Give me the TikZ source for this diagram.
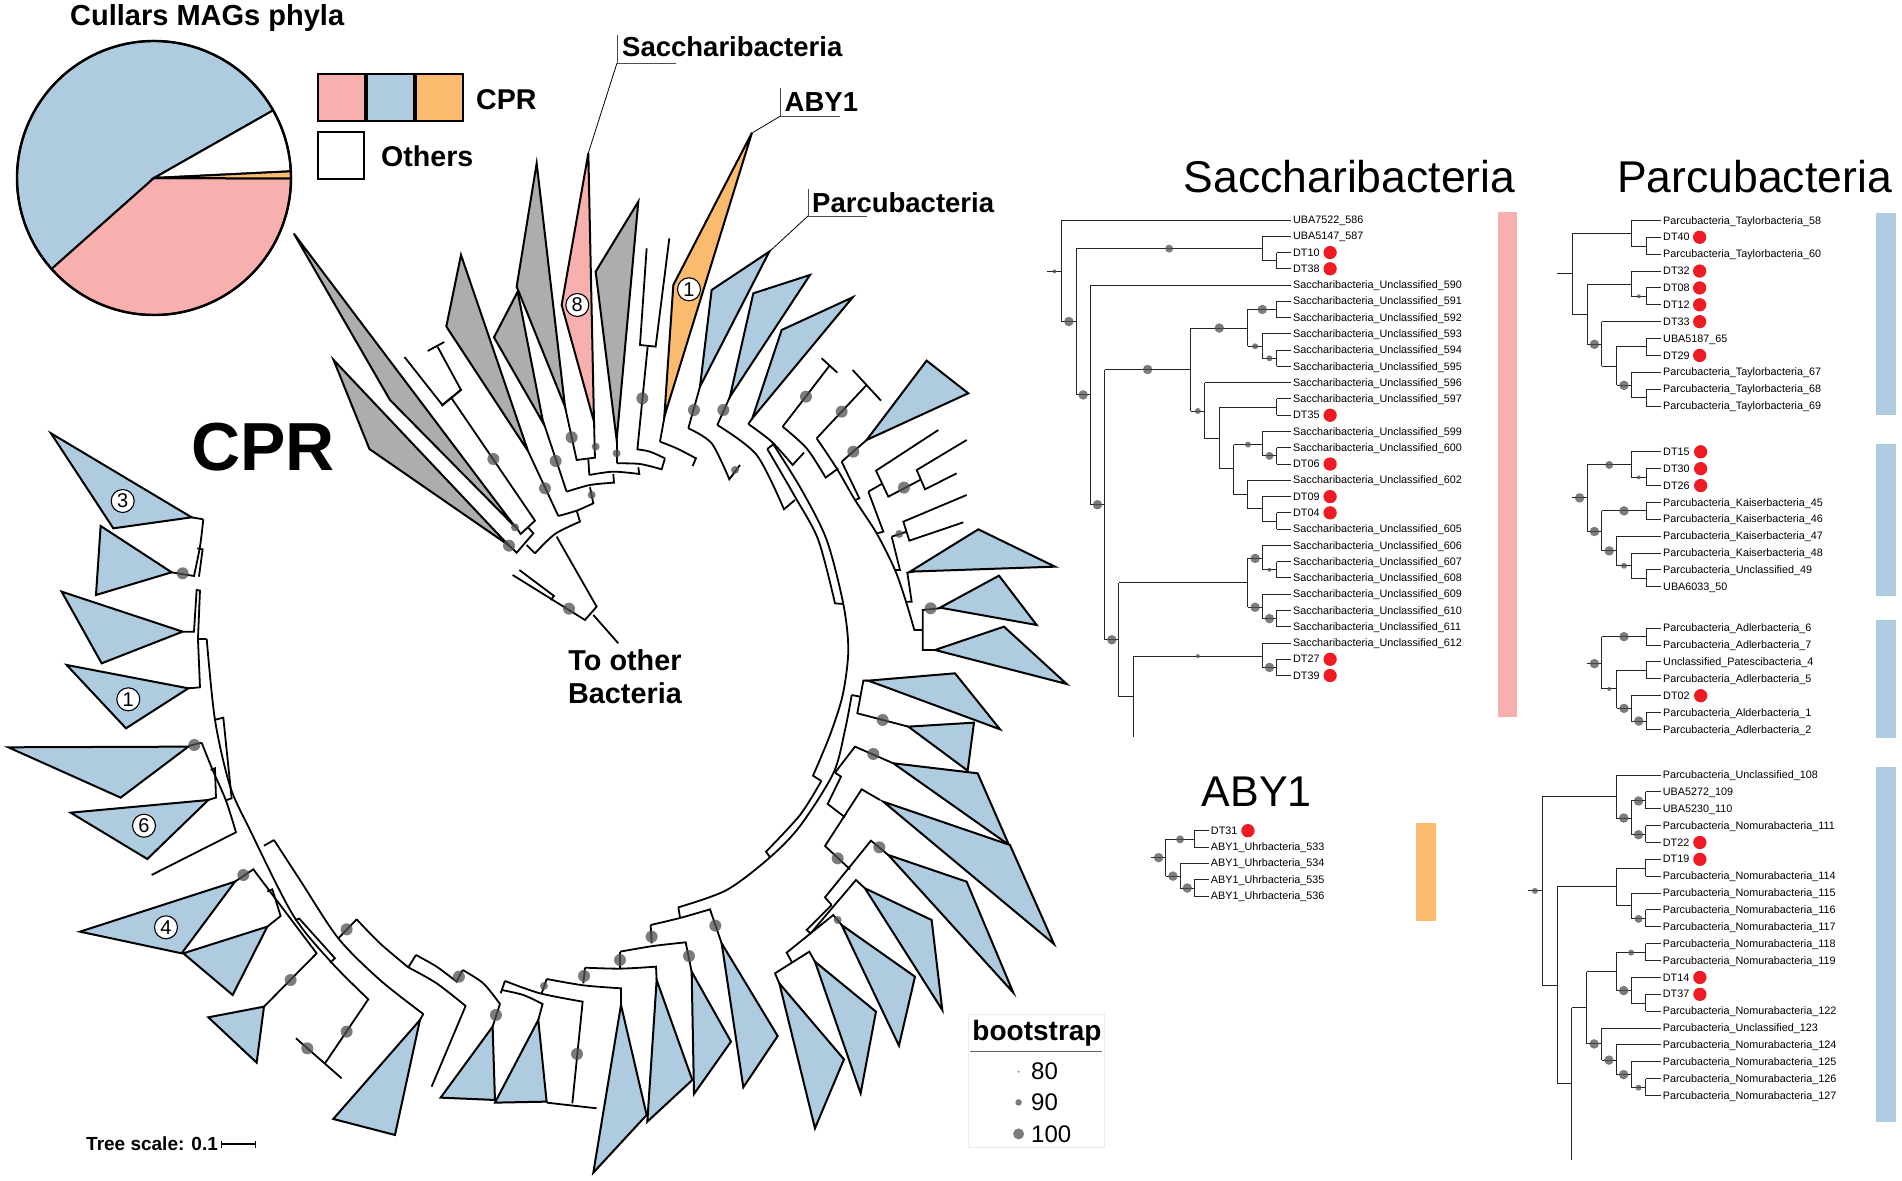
\documentclass[tikz,border=0pt]{standalone}
\usepackage{fontspec}
\setmainfont{Liberation Sans}
\usetikzlibrary{positioning}

\definecolor{sacpink}{HTML}{F7B0AD}
\definecolor{parblue}{HTML}{AFCBE0}
\definecolor{abyorange}{HTML}{FBBB6E}
\definecolor{cladegrey}{HTML}{ADADAD}
\definecolor{hitred}{HTML}{ED1C24}
\definecolor{bootgrey}{HTML}{505050}

\tikzstyle{wedge}=[draw=black, line width=2pt, line join=miter]
\tikzstyle{bluewedge}=[wedge, fill=parblue]
\tikzstyle{greywedge}=[wedge, fill=cladegrey]
\tikzstyle{branch}=[draw=black, line width=1.8pt, line join=miter]
\tikzstyle{thin branch}=[draw=black!85, line width=1pt, line join=miter]
\tikzstyle{boot}=[circle, fill=bootgrey, opacity=0.75, inner sep=0pt]
\tikzstyle{boot big}=[boot, minimum size=12pt]
\tikzstyle{boot small}=[boot, minimum size=8pt]
\tikzstyle{tree l}=[boot, minimum size=9.5pt]
\tikzstyle{tree m}=[boot, minimum size=8pt]
\tikzstyle{tree s}=[boot, minimum size=6pt]
\tikzstyle{tree t}=[boot, minimum size=4pt]
\tikzstyle{leaf}=[anchor=west, inner sep=2pt, text height=7.2pt, text depth=0pt, font=\fontsize{10.8}{12}\selectfont]
\tikzstyle{hit}=[circle, fill=hitred, minimum size=13.3pt, inner sep=0pt]
\tikzstyle{tag}=[circle, draw=black, fill=white, line width=1.1pt, minimum size=23pt, inner sep=0pt, font=\fontsize{20}{20}\selectfont]
\tikzstyle{lab}=[inner sep=0pt, font=\bfseries\fontsize{27.5}{33}\selectfont]
\tikzstyle{key}=[inner sep=0pt, anchor=west, font=\bfseries\fontsize{28.6}{33}\selectfont]
\tikzstyle{title}=[inner sep=0pt, font=\fontsize{44.5}{50}\selectfont]
\tikzstyle{bar}=[inner sep=0pt]
\tikzstyle{zseven}=[shift={(480,150)}, x=0.3333pt, y=-0.3333pt]
\tikzstyle{zeight}=[shift={(0,420)}, x=0.3333pt, y=-0.3333pt]
\tikzstyle{znine}=[shift={(60,780)}, x=0.3333pt, y=-0.3333pt]
\tikzstyle{zten}=[shift={(540,780)}, x=0.3333pt, y=-0.3333pt]
\tikzstyle{zeleven}=[shift={(800,430)}, x=0.3333pt, y=-0.3333pt]
\tikzstyle{ztwelve}=[shift={(400,380)}, x=0.3333pt, y=-0.3333pt]

\newcommand{\sacun}{Saccharibacteria\_Unclassified}
\newcommand{\partay}{Parcubacteria\_Taylorbacteria}
\newcommand{\parkai}{Parcubacteria\_Kaiserbacteria}
\newcommand{\paradl}{Parcubacteria\_Adlerbacteria}
\newcommand{\parnom}{Parcubacteria\_Nomurabacteria}
\newcommand{\parunc}{Parcubacteria\_Unclassified}
\newcommand{\abyuhr}{ABY1\_Uhrbacteria}

\begin{document}
\begin{tikzpicture}[x=1pt, y=-1pt]
  \useasboundingbox (0,0) rectangle (1902,1180);

  % Pie
  \node [key, font=\bfseries\fontsize{29}{33}\selectfont] (pie_title) at (70,18) {Cullars MAGs phyla};
  \begin{scope}[shift={(154,178)}]
    \draw [wedge, fill=parblue] (0,0) -- (29.6:137pt) arc [start angle=29.6, end angle=221.6, radius=137pt] -- cycle;
    \draw [wedge, fill=white] (0,0) -- (2.8:137pt) arc [start angle=2.8, end angle=29.6, radius=137pt] -- cycle;
    \draw [wedge, fill=sacpink] (0,0) -- (221.6:137pt) arc [start angle=221.6, end angle=359.8, radius=137pt] -- cycle;
    \draw [wedge, fill=abyorange] (0,0) -- (-0.2:137pt) arc [start angle=-0.2, end angle=2.8, radius=137pt] -- cycle;
    \draw [line width=2.4pt] (0,0) circle [radius=137pt];
  \end{scope}

  % Pie legend
  \node [wedge, fill=sacpink, minimum width=47pt, minimum height=47pt, inner sep=0pt, anchor=north west] (cell_1) at (317,73.5) {};
  \node [wedge, fill=parblue, minimum width=47pt, minimum height=47pt, inner sep=0pt, right=0pt of cell_1] (cell_2) {};
  \node [wedge, fill=abyorange, minimum width=47pt, minimum height=47pt, inner sep=0pt, right=0pt of cell_2] (cell_3) {};
  \node [wedge, fill=white, minimum width=46pt, minimum height=47pt, inner sep=0pt, anchor=north west] (cell_4) at (317,131) {};
  \node [key] (cpr_key) at (476,100) {CPR};
  \node [key] (others_key) at (381,156) {Others};

  % Big clades
  \draw [greywedge] (293.8,233.5) -- (390,400) -- (515,526.7) -- cycle;
  \draw [greywedge] (333.6,360) -- (369.4,449) -- (508.3,545) -- cycle;
  \draw [greywedge] (461,255) -- (446.3,326.5) -- (528,451) -- cycle;
  \begin{scope}[zseven]
    \draw [greywedge] (113,425) -- (42,562) -- (190,820) -- cycle;
    \draw [greywedge] (170,40) -- (110,410) -- (255,770) -- cycle;
    \draw [greywedge] (475,155) -- (347,365) -- (410,870) -- cycle;
    \draw [wedge, fill=sacpink] (325,10) -- (245,465) -- (342,815) -- cycle;
    \draw [wedge, fill=abyorange] (816,-52) -- (580,405) -- (553,800) -- cycle;
    \foreach \a/\b/\c/\d/\e/\f in {868/305/695/420/660/710, 990/375/820/430/750/740, 1118/442/905/540/817/805, 1340/632/1465/730/1160/870}
      \draw [bluewedge] (\a,\b) -- (\c,\d) -- (\e,\f) -- cycle;
  \end{scope}
  \begin{scope}[zeleven]
    \foreach \a/\b/\c/\d/\e/\f in {535/298/765/410/330/425, 597/437/710/585/420/533, 612/590/800/762/405/660, 465/730/600/898/205/752, 522/878/503/1022/325/890, 533/1030/627/1245/280/1000}
      \draw [bluewedge] (\a,\b) -- (\c,\d) -- (\e,\f) -- cycle;
  \end{scope}
  \begin{scope}[zten]
    \foreach \a/\b/\c/\d/\e/\f in {1410/195/1542/492/1030/65, 1280/305/1420/638/1045/225, 1175/420/1207/690/975/325, 1125/590/1077/797/905/435, 1008/695/962/940/825/545, 912/838/825/1045/718/610, 713/768/610/922/545/490, 573/785/462/942/455/575, 457/900/322/1025/350/600, 320/1005/160/1178/243/675}
      \draw [bluewedge] (\a,\b) -- (\c,\d) -- (\e,\f) -- cycle;
  \end{scope}
  \begin{scope}[znine]
    \foreach \a/\b/\c/\d/\e/\f in {1435/720/1305/968/1460/965, 1298/740/1142/953/1305/960, 1080/720/820/1017/1005/1065, 612/680/445/712/590/848, 622/440/370/520/518/645, 525/305/60/455/365/520, 445/60/32/98/262/237}
      \draw [bluewedge] (\a,\b) -- (\c,\d) -- (\e,\f) -- cycle;
  \end{scope}
  \begin{scope}[zeight]
    \foreach \a/\b/\c/\d/\e/\f in {565/980/25/982/362/1133, 565/805/200/735/378/925, 548/635/185/515/305/730, 515/457/302/318/288/525, 575/292/153/40/340/325}
      \draw [bluewedge] (\a,\b) -- (\c,\d) -- (\e,\f) -- cycle;
  \end{scope}

  % Backbone near the top and left
  \draw [branch] (427.7,351) -- (444.3,342);
  \draw [branch] (437.7,347) -- (460.9,389.8) -- (442.3,404.9) -- (404.5,357);
  \begin{scope}[ztwelve]
    \draw [branch] (470,470) -- (590,680) -- (555,720) -- (338,585);
    \draw [branch] (358,570) -- (462,648) -- (452,660);
    \draw [branch] (580,705) -- (655,790);
    \draw [branch] (155,55) -- (405,422) -- (362,462) -- (345,437);
    \draw [branch] (125,78) -- (185,28);
    \draw [branch] (310,480) -- (350,518) -- (400,460) -- (385,443);
    \draw [branch] (380,495) -- (405,520);
    \draw [branch] plot [smooth] coordinates {(405,520) (465,462) (540,425)} -- (530,392);
    \draw [branch] (385,215) -- (475,408);
    \draw [branch] plot [smooth] coordinates {(475,408) (530,392) (580,370)} -- (570,322);
    \draw [branch] (430,125) -- (500,335);
    \draw [branch] plot [smooth] coordinates {(500,335) (570,315) (642,308)} -- (640,282);
    \draw [branch] (495,80) -- (530,240) -- (585,233) -- (582,125);
    \draw [branch] (565,238) -- (568,285);
    \draw [branch] plot [smooth] coordinates {(568,285) (640,275) (718,282)} -- (715,262);
    \draw [branch] (650,180) -- (650,250);
    \draw [branch] plot [smooth] coordinates {(650,250) (720,252) (785,268)} -- (795,235);
    \draw [branch] plot [smooth] coordinates {(712,208) (750,215) (795,235)};
    \draw [branch] (800,75) -- (780,185);
    \draw [branch] plot [smooth] coordinates {(780,185) (830,205) (888,235)} -- (878,258);
  \end{scope}
  \begin{scope}[zseven]
    \draw [branch] (503,590) -- (472,900);
    \draw [branch] (500,295) -- (480,585) -- (527,590) -- (568,265);
    \draw [branch] (660,710) -- (625,835);
    \draw [branch] plot [smooth] coordinates {(625,835) (695,880) (748,988)} -- (780,945);
    \draw [branch] (750,740) -- (712,825);
    \draw [branch] plot [smooth] coordinates {(712,825) (830,915) (912,1078)} -- (945,1050);
    \draw [branch] (817,805) -- (805,822);
    \draw [branch] plot [smooth] coordinates {(805,822) (875,875) (938,945)} -- (972,908);
    \draw [branch] (862,897) -- (880,883);
    \draw [branch] (1025,625) -- (1072,668);
    \draw [branch] (1048,648) -- (908,830);
    \draw [branch] plot [smooth] coordinates {(908,830) (980,895) (1037,983)} -- (1075,955);
    \draw [branch] (1118,660) -- (1203,752);
    \draw [branch] (1160,705) -- (1010,865);
  \end{scope}
  \draw [branch] plot [smooth] coordinates {(767.3,449) (795,496.7) (818.3,540) (835,603.3)} -- (843.3,604);
  \draw [branch] plot [smooth] coordinates {(773.3,444.3) (801.7,490) (826.7,540) (843.3,604) (848.3,650) (842.7,695) (830,735) (813,775.7)} -- (821.3,781);
  \draw [branch] plot [smooth] coordinates {(821.3,781) (800,815) (766,851.7)} -- (770,857.3);
  \draw [branch] plot [smooth] coordinates {(851.7,695) (845,730) (833.3,773.3) (800,826) (770,857.3) (726.7,890) (678.3,907.3)};

  % Backbone on the right
  \begin{scope}[zeleven]
    \draw [branch] plot [smooth] coordinates {(50,25) (110,115) (165,210) (230,310) (285,420) (318,515) (343,600)} -- (368,600);
    \draw [branch] (125,95) -- (200,30);
    \draw [branch] (125,95) -- (178,205) -- (165,210);
    \draw [branch] (205,185) -- (245,162);
    \draw [branch] (205,185) -- (250,305) -- (232,310);
    \draw [branch] (275,320) -- (320,305);
    \draw [branch] (275,320) -- (300,420) -- (283,420);
    \draw [branch] (340,425) -- (322,428) -- (335,515) -- (318,515);
    \draw [branch] (415,0) -- (228,122) -- (265,200) -- (360,150);
    \draw [branch] (500,30) -- (350,120) -- (375,178) -- (470,130);
    \draw [branch] (500,195) -- (310,275) -- (328,332) -- (490,277);
    \draw [branch] (420,535) -- (368,540) -- (368,660) -- (410,660);
    \draw [branch] (205,752) -- (190,752) -- (172,850) -- (325,890);
    \draw [branch] (155,795) -- (180,800);
    \draw [branch] (105,1028) -- (123,1040) -- (83,1122) -- (135,1162);
    \draw [branch] (105,1028) -- (165,950) -- (280,1000);
    \draw [branch] (240,1110) -- (185,1078) -- (75,1248) -- (150,1318);
  \end{scope}
  \begin{scope}[zten]
    \draw [branch] (1045,225) -- (993,182) -- (855,352) -- (875,375);
    \draw [branch] (975,325) -- (948,300) -- (812,460) -- (800,450) -- (875,375);
    \draw [branch] (905,435) -- (880,405) -- (740,518) -- (755,545);
    \draw [branch] (825,545) -- (808,515) -- (705,580) -- (718,610);
    \draw [branch] (415,382) -- (420,412);
    \draw [branch] plot [smooth] coordinates {(332,435) (420,414) (510,388)} -- (545,490);
    \draw [branch] (332,435) -- (335,490);
    \draw [branch] plot [smooth] coordinates {(240,515) (340,498) (437,487)} -- (455,575);
    \draw [branch] (240,515) -- (240,565);
    \draw [branch] plot [smooth] coordinates {(135,563) (240,566) (348,560)} -- (350,600);
    \draw [branch] (135,563) -- (130,610);
    \draw [branch] plot [smooth] coordinates {(20,597) (130,616) (243,625)} -- (243,675);
    \draw [branch] (20,597) -- (5,640);
    \draw [branch] plot [smooth] coordinates {(-105,603) (0,640) (128,665)} -- (97,970);
    \draw [branch] (20,968) -- (170,985);
  \end{scope}

  % Backbone on the left and at the bottom
  \begin{scope}[zeight]
    \draw [branch] (575,292) -- (610,298);
    \draw [branch] plot [smooth] coordinates {(610,298) (600,380) (582,468)} -- (515,457);
    \draw [branch] (592,385) -- (608,388) -- (597,470);
    \draw [branch] (550,635) -- (582,635) -- (590,510) -- (600,512) -- (594,655);
    \draw [branch] (565,805) -- (600,802) -- (594,657) -- (620,657);
    \draw [branch] (643,900) -- (670,893) -- (695,1135) -- (675,1142);
    \draw [branch] (565,978) -- (605,968);
    \draw [branch] plot [smooth] coordinates {(605,968) (638,1050) (678,1142) (708,1237)} -- (455,1365);
    \draw [branch] (632,1050) -- (645,1045) -- (648,1133) -- (625,1140);
  \end{scope}
  \draw [branch] plot [smooth] coordinates {(206.7,639) (215,720) (230,786) (250,830) (293,915) (331.7,962.7) (368.3,999.3)} -- (325,1063.3);
  \draw [branch] (264,845.7) -- (274,840);
  \draw [branch] plot [smooth] coordinates {(274,840) (300,880) (338.3,938.3) (380,980) (423.3,1014)};
  \begin{scope}[znine]
    \draw [branch] (525,305) -- (580,268) -- (770,520) -- (612,680);
    \draw [branch] (622,335) -- (637,328) -- (662,408) -- (622,440);
    \draw [branch] (705,420) -- (718,416) -- (825,535) -- (810,548);
    \draw [branch] (708,775) -- (845,895);
    \draw [branch] (835,475) -- (890,418);
    \draw [branch] plot [smooth] coordinates {(890,418) (960,490) (1045,562)};
    \draw [branch] (1045,562) -- (1068,525);
    \draw [branch] plot [smooth] coordinates {(1045,562) (1130,610) (1217,678)} -- (1115,920);
    \draw [branch] plot [smooth] coordinates {(1068,525) (1130,560) (1190,605)} -- (1208,570);
    \draw [branch] plot [smooth] coordinates {(1208,570) (1270,610) (1320,672)} -- (1298,740);
    \draw [branch] (1090,702) -- (1080,720);
    \draw [branch] plot [smooth] coordinates {(1325,630) (1390,645) (1448,672)} -- (1435,720);
    \draw [branch] (1335,603) -- (1322,640);
  \end{scope}

  % Bootstrap dots on the round tree
  \begin{scope}[ztwelve]
    \foreach \x/\y [count=\i] in {280/237, 435/325, 467/243, 515/172, 327/497, 507/686}
      \node [boot big] (ra_\i) at (\x,\y) {};
    \foreach \x/\y [count=\i] in {575/345, 587/200, 650/220, 345/442}
      \node [boot small] (rb_\i) at (\x,\y) {};
  \end{scope}
  \begin{scope}[zseven]
    \foreach \x/\y [count=\i] in {487/745, 642/780, 730/780, 978/740, 1085/785, 1120/905, 1272/1013, 1352/1375}
      \node [boot big] (rc_\i) at (\x,\y) {};
    \foreach \x/\y [count=\i] in {765/960, 1258/1152}
      \node [boot small] (rd_\i) at (\x,\y) {};
  \end{scope}
  \begin{scope}[zeleven]
    \foreach \x/\y [count=\i] in {248/870, 220/972}
      \node [boot big] (re_\i) at (\x,\y) {};
  \end{scope}
  \begin{scope}[zten]
    \foreach \x/\y [count=\i] in {335/470, 526/437, 240/540, 447/528, 132/588, 111/822, 893/235, 1018/202}
      \node [boot big] (rf_\i) at (\x,\y) {};
    \foreach \x/\y [count=\i] in {893/420, 12/618}
      \node [boot small] (rg_\i) at (\x,\y) {};
  \end{scope}
  \begin{scope}[znine]
    \foreach \x/\y [count=\i] in {860/448, 692/600, 860/755, 742/805, 1197/590, 1308/705, 550/285}
      \node [boot big] (rh_\i) at (\x,\y) {};
  \end{scope}
  \begin{scope}[zeight]
    \foreach \x/\y [count=\i] in {548/460, 583/975}
      \node [boot big] (ri_\i) at (\x,\y) {};
  \end{scope}

  % Numbers in clades
  \node [tag] (n_8) at (577.3,305) {8};
  \node [tag] (n_1a) at (689,289.3) {1};
  \node [tag] (n_3) at (122.7,501) {3};
  \node [tag] (n_1b) at (128.3,699.3) {1};
  \node [tag] (n_6) at (144,825.7) {6};
  \node [tag] (n_4) at (166,927.3) {4};

  % Clade names
  \node [lab, anchor=west] (sac_name) at (622,47) {Saccharibacteria};
  \node [lab, anchor=west] (aby_name) at (784.5,102) {ABY1};
  \node [lab, anchor=west] (par_name) at (812,203) {Parcubacteria};
  \coordinate (sac_tip) at (588,154);
  \coordinate (sac_top) at (617,35);
  \coordinate (sac_elbow) at (617,63);
  \coordinate (sac_end) at (676,63);
  \coordinate (aby_tip) at (752.6,132.6);
  \coordinate (aby_top) at (780.5,88);
  \coordinate (aby_elbow) at (780.5,116);
  \coordinate (aby_end) at (839.5,116);
  \coordinate (par_tip) at (769.3,251.7);
  \coordinate (par_top) at (808,188.5);
  \coordinate (par_elbow) at (808,216);
  \coordinate (par_end) at (866.7,216);
  \foreach \g in {sac,aby,par} {
    \draw [line width=0.8pt] (\g_tip) -- (\g_elbow);
    \draw [line width=0.8pt, black!70] (\g_top) -- (\g_elbow) -- (\g_end);
  }

  \node [inner sep=0pt, font=\bfseries\fontsize{68}{70}\selectfont] (cpr_name) at (263,447) {CPR};
  \node [lab, font=\bfseries\fontsize{28.8}{33}\selectfont, align=center] (other_name) at (625,677) {To other\\Bacteria};

  % Tree scale
  \node [inner sep=0pt, anchor=west, font=\bfseries\fontsize{19}{22}\selectfont] (scale_name) at (86,1144) {Tree scale: 0.1};
  \coordinate (scale_a) at (221.4,1144);
  \coordinate (scale_b) at (255.7,1144);
  \draw [line width=1.2pt] (scale_a) -- (scale_b);
  \draw [line width=1.2pt] ([yshift=-3.5pt]scale_a) -- ([yshift=3.5pt]scale_a);
  \draw [line width=1.2pt] ([yshift=-3.5pt]scale_b) -- ([yshift=3.5pt]scale_b);

  % Bootstrap key
  \node [draw=black!8, line width=0.8pt, minimum width=136pt, minimum height=133pt, inner sep=0pt, anchor=north west] (key_box) at (968,1014) {};
  \node [lab, font=\bfseries\fontsize{28}{33}\selectfont] (key_name) at (1037,1033) {bootstrap};
  \coordinate (key_a) at (970,1051);
  \coordinate (key_b) at (1102,1051);
  \draw [black!60, line width=1pt] (key_a) -- (key_b);
  \node [boot, minimum size=2pt] (key_80) at (1018.6,1071.7) {};
  \node [boot, minimum size=6.5pt] (key_90) at (1018.6,1102.4) {};
  \node [boot, minimum size=11pt] (key_100) at (1018.6,1133.9) {};
  \foreach \v/\y in {80/1071.7, 90/1102.4, 100/1133.9}
    \node [anchor=west, inner sep=0pt, font=\fontsize{24}{24}\selectfont] (key_t\v) at (1031,\y) {\v};

  % Saccharibacteria
  \node [title] (sac_title) at (1349.5,177) {Saccharibacteria};
  \node [bar, fill=sacpink, minimum width=19.3pt, minimum height=504.8pt, anchor=north west] (sac_bar) at (1497.7,212) {};
  \begin{scope}[shift={(1047.33,220)}, x=14.33pt, y=-16.27pt]
    \foreach \r/\n in {0/UBA7522\_586, 1/UBA5147\_587, 2/DT10, 3/DT38, 4/\sacun\_590, 5/\sacun\_591, 6/\sacun\_592, 7/\sacun\_593, 8/\sacun\_594, 9/\sacun\_595, 10/\sacun\_596, 11/\sacun\_597, 12/DT35, 13/\sacun\_599, 14/\sacun\_600, 15/DT06, 16/\sacun\_602, 17/DT09, 18/DT04, 19/\sacun\_605, 20/\sacun\_606, 21/\sacun\_607, 22/\sacun\_608, 23/\sacun\_609, 24/\sacun\_610, 25/\sacun\_611, 26/\sacun\_612, 27/DT27, 28/DT39}
      \node [leaf] (sac_\r) at (17,\r) {\n};
    \foreach \r in {2,3,12,15,17,18,27,28}
      \node [hit, right=1.5pt of sac_\r] (sac_hit_\r) {};

    \foreach \a/\b/\r/\p/\q in {0/1/3.16/0/6.24, 1/2/6.24/1.76/10.75, 2/15/1.76/1/2.5, 15/16/2.5/2/3, 2/3/10.75/4/17.5, 3/4/17.5/9.19/25.8, 4/10/9.19/6.64/11.74, 10/14/6.64/5.5/7.76, 14/16/5.5/5/6, 14/15/7.76/7/8.5, 15/16/8.5/8/9, 10/11/11.74/10/13.43, 11/12/13.43/11.5/15.3, 12/16/11.5/11/12, 12/13/15.3/13.8/16.9, 13/15/13.8/13/14.5, 15/16/14.5/14/15, 13/14/16.9/16/17.75, 14/15/17.75/17/18.5, 15/16/18.5/18/19, 4/5/25.8/22.3/29.3, 5/14/22.3/20.8/23.8, 14/15/20.8/20/21.5, 15/16/21.5/21/22, 14/15/23.8/23/24.5, 15/16/24.5/24/25, 5/6/29.3/26.8/31.8, 6/15/26.8/26/27.5, 15/16/27.5/27/28}
      \draw [thin branch] (\a,\r) -- (\b,\r) (\b,\p) -- (\b,\q);
    \foreach \k/\r in {1/0, 15/1, 16/2, 16/3, 3/4, 16/5, 16/6, 15/7, 16/8, 16/9, 11/10, 16/11, 16/12, 15/13, 16/14, 16/15, 14/16, 15/17, 16/18, 16/19, 15/20, 16/21, 16/22, 15/23, 16/24, 16/25, 15/26, 16/27, 16/28}
      \draw [thin branch] (\k,\r) -- (sac_\r.west);

    \foreach \k/\r/\s [count=\i] in {1.5/6.24/l, 8.5/1.76/m, 2.5/10.75/l, 3.5/17.5/l, 7/9.19/l, 12/6.64/l, 15/5.5/l, 14.5/7.76/s, 15.5/8.5/s, 10.5/11.74/s, 14/13.8/s, 15.5/14.5/m, 14.5/20.8/l, 15.5/21.5/t, 14.5/23.8/l, 15.5/24.5/l, 4.5/25.8/l, 15.5/27.5/l, 10.5/26.8/t, 0.5/3.16/t}
      \node [tree \s] (sac_b\i) at (\k,\r) {};
  \end{scope}

  % ABY1
  \node [title, font=\fontsize{43}{50}\selectfont] (aby_title) at (1256.7,792) {ABY1};
  \node [bar, fill=abyorange, minimum width=19.3pt, minimum height=98.3pt, anchor=north west] (aby_bar) at (1416,822.7) {};
  \begin{scope}[shift={(1137.1,830.7)}, x=14.33pt, y=-16.33pt]
    \foreach \r/\n in {0/DT31, 1/\abyuhr\_533, 2/\abyuhr\_534, 3/\abyuhr\_535, 4/\abyuhr\_536}
      \node [leaf] (aby_\r) at (5,\r) {\n};
    \node [hit, right=1.5pt of aby_0] (aby_hit_0) {};
    \foreach \a/\b/\r/\p/\q in {1/2/1.65/0.53/2.78, 2/4/0.53/0/1, 2/3/2.78/2/3.51, 3/4/3.51/3/4}
      \draw [thin branch] (\a,\r) -- (\b,\r) (\b,\p) -- (\b,\q);
    \foreach \k/\r in {4/0, 4/1, 3/2, 4/3, 4/4}
      \draw [thin branch] (\k,\r) -- (aby_\r.west);
    \foreach \k/\r/\s [count=\i] in {1.5/1.65/l, 3/0.53/m, 2.5/2.78/l, 3.5/3.51/l}
      \node [tree \s] (aby_b\i) at (\k,\r) {};
  \end{scope}

  % Parcubacteria
  \node [title] (par_title) at (1754.5,177) {Parcubacteria};
  \node [bar, fill=parblue, minimum width=20pt, minimum height=202.5pt, anchor=north west] (par_bar_1) at (1876,212.5) {};
  \node [bar, fill=parblue, minimum width=20pt, minimum height=151.7pt, anchor=north west] (par_bar_2) at (1876,444) {};
  \node [bar, fill=parblue, minimum width=20pt, minimum height=118pt, anchor=north west] (par_bar_3) at (1876,620) {};
  \node [bar, fill=parblue, minimum width=20pt, minimum height=355pt, anchor=north west] (par_bar_4) at (1876,766.7) {};

  % Taylorbacteria
  \begin{scope}[shift={(1542.6,220.4)}, x=14.8pt, y=-16.88pt]
    \foreach \r/\n in {0/\partay\_58, 1/DT40, 2/\partay\_60, 3/DT32, 4/DT08, 5/DT12, 6/DT33, 7/UBA5187\_65, 8/DT29, 9/\partay\_67, 10/\partay\_68, 11/\partay\_69}
      \node [leaf] (pa_\r) at (8,\r) {\n};
    \foreach \r in {1,3,4,5,6,8}
      \node [hit, right=1pt of pa_\r] (pa_hit_\r) {};
    \foreach \a/\b/\r/\p/\q in {1/2/3.17/0.78/5.56, 2/6/0.78/0/1.52, 6/7/1.52/1/2, 2/3/5.56/3.77/7.34, 3/6/3.77/3/4.5, 6/7/4.5/4/5, 3/4/7.34/6/8.65, 4/5/8.65/7.45/9.77, 5/7/7.45/7/8, 5/6/9.77/9/10.5, 6/7/10.5/10/11}
      \draw [thin branch] (\a,\r) -- (\b,\r) (\b,\p) -- (\b,\q);
    \foreach \k/\r in {6/0, 7/1, 7/2, 6/3, 7/4, 7/5, 4/6, 7/7, 7/8, 6/9, 7/10, 7/11}
      \draw [thin branch] (\k,\r) -- (pa_\r.west);
    \foreach \k/\r/\s [count=\i] in {6.5/4.5/t, 3.5/7.34/l, 5.5/9.77/l}
      \node [tree \s] (pa_b\i) at (\k,\r) {};
  \end{scope}

  % Kaiserbacteria
  \begin{scope}[shift={(1542.6,451.8)}, x=14.8pt, y=-16.88pt]
    \foreach \r/\n in {0/DT15, 1/DT30, 2/DT26, 3/\parkai\_45, 4/\parkai\_46, 5/\parkai\_47, 6/\parkai\_48, 7/\parunc\_49, 8/UBA6033\_50}
      \node [leaf] (pb_\r) at (8,\r) {\n};
    \foreach \r in {0,1,2}
      \node [hit, right=2pt of pb_\r] (pb_hit_\r) {};
    \foreach \a/\b/\r/\p/\q in {2/3/2.73/0.78/4.72, 3/6/0.78/0/1.52, 6/7/1.52/1/2, 3/4/4.72/3.5/5.87, 4/7/3.5/3/4, 4/5/5.87/5/6.75, 5/6/6.75/6/7.5, 6/7/7.5/7/8}
      \draw [thin branch] (\a,\r) -- (\b,\r) (\b,\p) -- (\b,\q);
    \foreach \k/\r in {6/0, 7/1, 7/2, 7/3, 7/4, 5/5, 6/6, 7/7, 7/8}
      \draw [thin branch] (\k,\r) -- (pb_\r.west);
    \foreach \k/\r/\s [count=\i] in {2.5/2.73/l, 4.5/0.78/m, 6.5/1.52/t, 3.5/4.72/l, 5.5/3.5/l, 4.5/5.87/l, 5.5/6.75/s}
      \node [tree \s] (pb_b\i) at (\k,\r) {};
  \end{scope}

  % Adlerbacteria
  \begin{scope}[shift={(1542.6,628.2)}, x=14.8pt, y=-16.88pt]
    \foreach \r/\n in {0/\paradl\_6, 1/\paradl\_7, 2/Unclassified\_Patescibacteria\_4, 3/\paradl\_5, 4/DT02, 5/Parcubacteria\_Alderbacteria\_1, 6/\paradl\_2}
      \node [leaf] (pc_\r) at (8,\r) {\n};
    \node [hit, right=2pt of pc_4] (pc_hit_4) {};
    \foreach \a/\b/\r/\p/\q in {3/4/2.1/0.5/3.6, 4/7/0.5/0/1, 4/5/3.6/2.5/4.75, 5/7/2.5/2/3, 5/6/4.75/4/5.5, 6/7/5.5/5/6}
      \draw [thin branch] (\a,\r) -- (\b,\r) (\b,\p) -- (\b,\q);
    \foreach \k/\r in {7/0, 7/1, 7/2, 7/3, 6/4, 7/5, 7/6}
      \draw [thin branch] (\k,\r) -- (pc_\r.west);
    \foreach \k/\r/\s [count=\i] in {3.5/2.1/l, 5.5/0.5/l, 4.5/3.6/t, 5.5/4.75/l, 6.5/5.5/l}
      \node [tree \s] (pc_b\i) at (\k,\r) {};
  \end{scope}

  % Nomurabacteria
  \begin{scope}[shift={(1512.7,775)}, x=14.8pt, y=-16.87pt]
    \foreach \r/\n in {0/\parunc\_108, 1/UBA5272\_109, 2/UBA5230\_110, 3/\parnom\_111, 4/DT22, 5/DT19, 6/\parnom\_114, 7/\parnom\_115, 8/\parnom\_116, 9/\parnom\_117, 10/\parnom\_118, 11/\parnom\_119, 12/DT14, 13/DT37, 14/\parnom\_122, 15/\parunc\_123, 16/\parnom\_124, 17/\parnom\_125, 18/\parnom\_126, 19/\parnom\_127}
      \node [leaf] (pd_\r) at (10,\r) {\n};
    \foreach \r in {4,5,12,13}
      \node [hit, right=1.5pt of pd_\r] (pd_hit_\r) {};
    \foreach \a/\b/\r/\p/\q in {1/2/6.87/1.28/12.46, 2/7/1.28/0/2.55, 7/8/2.55/1.54/3.54, 8/9/1.54/1/2, 8/9/3.54/3/4, 2/3/12.46/6.62/18.27, 3/7/6.62/5.53/7.76, 7/9/5.53/5/6, 7/8/7.76/7/8.53, 8/9/8.53/8/9, 3/4/18.27/13.79/22.8, 4/5/13.79/11.65/15.94, 5/7/11.65/10.53/12.78, 7/9/10.53/10/11, 7/8/12.78/12/13.53, 8/9/13.53/13/14, 5/6/15.94/15/16.9, 6/7/16.9/16/17.76, 7/8/17.76/17/18.53, 8/9/18.53/18/19}
      \draw [thin branch] (\a,\r) -- (\b,\r) (\b,\p) -- (\b,\q);
    \foreach \k/\r in {7/0, 9/1, 9/2, 9/3, 9/4, 9/5, 9/6, 8/7, 9/8, 9/9, 9/10, 9/11, 8/12, 9/13, 9/14, 6/15, 7/16, 8/17, 9/18, 9/19}
      \draw [thin branch] (\k,\r) -- (pd_\r.west);
    \foreach \k/\r/\s [count=\i] in {1.5/6.87/s, 7.5/2.55/l, 8.5/1.54/l, 8.5/3.54/l, 8.5/8.53/m, 8/10.53/s, 7.5/12.78/l, 5.5/15.94/l, 6.5/16.9/l, 7.5/17.76/l, 8.5/18.53/s}
      \node [tree \s] (pd_b\i) at (\k,\r) {};
  \end{scope}
\end{tikzpicture}
\end{document}
